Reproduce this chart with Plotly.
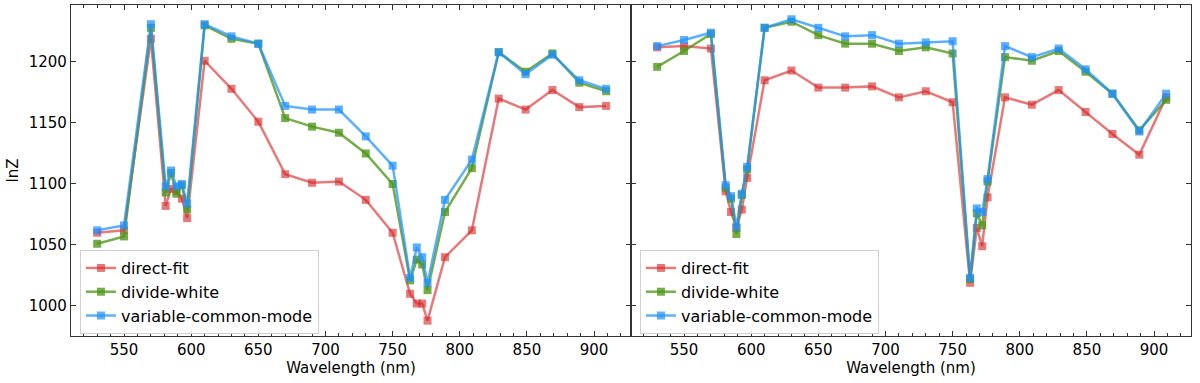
import plotly.graph_objects as go
from plotly.subplots import make_subplots

# wavelength bins (nm)
wavelength = [530, 550, 570, 581, 585, 589, 593, 597, 610, 630, 650, 670, 690, 710,
              730, 750, 763, 768, 772, 776, 789, 809, 829, 849, 869, 889, 909]

# left panel
left_direct = [1060, 1062, 1219, 1082, 1096, 1094, 1088, 1072, 1201, 1178, 1151, 1108, 1101, 1102,
               1087, 1060, 1010, 1002, 1002, 988, 1040, 1062, 1170, 1161, 1177, 1163, 1164]
left_divide = [1051, 1057, 1228, 1093, 1109, 1092, 1099, 1079, 1230, 1219, 1215, 1154, 1147, 1142,
               1125, 1100, 1021, 1038, 1034, 1013, 1077, 1113, 1208, 1192, 1207, 1183, 1176]
left_vcm = [1062, 1066, 1231, 1098, 1111, 1098, 1100, 1084, 1231, 1221, 1215, 1164, 1161, 1161,
            1139, 1115, 1023, 1048, 1040, 1019, 1087, 1120, 1208, 1190, 1206, 1185, 1178]

# right panel
right_direct = [1212, 1213, 1211, 1094, 1077, 1064, 1079, 1105, 1185, 1193, 1179, 1179, 1180, 1171,
                1176, 1167, 1019, 1064, 1049, 1089, 1171, 1165, 1177, 1159, 1141, 1124, 1171]
right_divide = [1196, 1209, 1223, 1097, 1088, 1059, 1091, 1112, 1228, 1233, 1222, 1215, 1215, 1209,
                1212, 1207, 1022, 1076, 1066, 1102, 1204, 1201, 1209, 1192, 1174, 1144, 1169]
right_vcm = [1213, 1218, 1224, 1099, 1090, 1065, 1092, 1114, 1228, 1235, 1228, 1221, 1222, 1215,
             1216, 1217, 1023, 1080, 1077, 1104, 1213, 1204, 1211, 1194, 1174, 1143, 1174]

names = ["direct-fit", "divide-white", "variable-common-mode"]
colors = ["rgba(214,39,40,0.62)", "rgba(80,150,25,0.78)", "rgba(30,144,255,0.72)"]

fig = make_subplots(rows=1, cols=2, shared_yaxes=True, horizontal_spacing=0)

panels = [(left_direct, left_divide, left_vcm), (right_direct, right_divide, right_vcm)]
for col, series in enumerate(panels, start=1):
    for name, ys, c in zip(names, series, colors):
        fig.add_trace(go.Scatter(
            x=wavelength, y=ys, mode="lines+markers", name=name,
            line=dict(color=c, width=2.5),
            marker=dict(symbol="square", size=8, color=c),
            legend="legend" if col == 1 else "legend2",
        ), row=1, col=col)

font = dict(family="DejaVu Sans", size=15, color="black")
axis_style = dict(
    showline=True, linecolor="#333", linewidth=1.3, mirror="allticks",
    ticks="inside", ticklen=5, tickcolor="#333", showgrid=False, zeroline=False,
    tickfont=font,
)
for col in (1, 2):
    fig.update_xaxes(range=[510.5, 927.5], dtick=50, tick0=500,
                     minor=dict(dtick=10, ticks="inside", ticklen=3, tickcolor="#333"),
                     title=dict(text="Wavelength (nm)", font=font, standoff=3),
                     row=1, col=col, **axis_style)
fig.update_yaxes(range=[975.4, 1246.7], dtick=50, **axis_style)
fig.update_yaxes(title=dict(text="lnZ", font=font, standoff=6), row=1, col=1)
fig.update_yaxes(showticklabels=False, row=1, col=2)

legend_style = dict(
    xanchor="left", yanchor="bottom", y=0.006,
    bgcolor="rgba(255,255,255,0.85)", bordercolor="#d0d0d0", borderwidth=1,
    font=dict(family="DejaVu Sans", size=16, color="black"),
    tracegroupgap=0,
)
fig.update_layout(
    width=1200, height=383,
    margin=dict(l=71, r=9, t=5, b=47),
    plot_bgcolor="white", paper_bgcolor="white",
    font=font,
    legend=dict(x=0.008, **legend_style),
    legend2=dict(x=0.508, **legend_style),
)

# drop the page's default body margin so the figure sits at the window origin
fig.write_html("out.html", config={"displayModeBar": False},
               post_script="document.body.style.margin='0';")
